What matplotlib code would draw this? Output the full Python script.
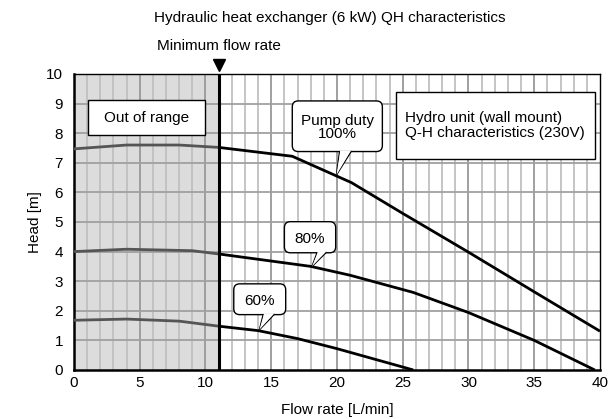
import matplotlib.pyplot as plt
from matplotlib.patches import FancyBboxPatch, Polygon, Rectangle

plt.rcParams['font.family'] = ['Liberation Sans', 'DejaVu Sans']

min_flow = 11

# pump curves, left part (out of range, grey) and right part (black)
q100_left = [0, 4, 8, 11]
h100_left = [7.47, 7.6, 7.6, 7.52]
q100 = [11, 16.6, 21.1, 25, 30, 35, 40]
h100 = [7.52, 7.22, 6.33, 5.29, 3.98, 2.64, 1.31]

q80_left = [0, 4, 9, 11]
h80_left = [4.0, 4.08, 4.03, 3.92]
q80 = [11, 18, 21, 25.8, 30, 35, 39.6]
h80 = [3.92, 3.5, 3.2, 2.62, 1.94, 1.0, 0.0]

q60_left = [0, 4, 8, 11]
h60_left = [1.68, 1.72, 1.65, 1.48]
q60 = [11, 14, 17, 20, 25.8]
h60 = [1.48, 1.33, 1.06, 0.72, 0.0]

x_ticks = [0, 5, 10, 15, 20, 25, 30, 35, 40]
y_ticks = list(range(0, 11))

fs = 11

fig = plt.figure(figsize=(6.1, 4.19), dpi=100)
ax = fig.add_axes([0.1213, 0.117, 0.8623, 0.7064])
ax.set_xlim(0, 40)
ax.set_ylim(0, 10)

# shaded out-of-range area
ax.add_patch(Rectangle((0, 0), min_flow, 10, facecolor='#dcdcdc', edgecolor='none', zorder=0))

# grid
for q in range(1, 40):
    c = '#999999' if q % 5 == 0 else '#c0c0c0'
    ax.axvline(q, color=c, lw=1.3, zorder=1)
for h in range(1, 10):
    ax.axhline(h, color='#a0a0a0', lw=1.3, zorder=1)

ax.axvline(min_flow, color='black', lw=2.2, zorder=4)

for ql, hl, q, h in [(q100_left, h100_left, q100, h100),
                     (q80_left, h80_left, q80, h80),
                     (q60_left, h60_left, q60, h60)]:
    ax.plot(ql, hl, color='#555555', lw=2, zorder=3, solid_capstyle='butt')
    ax.plot(q, h, color='black', lw=2, zorder=3, solid_capstyle='butt')

ax.set_xticks(x_ticks)
ax.set_yticks(y_ticks)
ax.tick_params(length=0, labelsize=fs)
ax.tick_params(axis='y', pad=8)
ax.tick_params(axis='x', pad=4)
for s in ax.spines.values():
    s.set_linewidth(1.0)
ax.spines['left'].set_linewidth(1.8)
ax.spines['bottom'].set_linewidth(1.8)

ax.set_xlabel('Flow rate [L/min]', fontsize=fs, labelpad=10)
ax.set_ylabel('Head [m]', fontsize=fs, labelpad=3)


def callout(x0, x1, y0, y1, base0, base1, tip, text):
    box = FancyBboxPatch((x0, y0), x1 - x0, y1 - y0,
                         boxstyle='round,pad=0,rounding_size=0.45',
                         mutation_aspect=0.45,
                         facecolor='white', edgecolor='black', lw=1.0, zorder=6)
    ax.add_patch(box)
    ax.add_patch(Polygon([(base0, y0 + 0.02), tip, (base1, y0 + 0.02)], closed=False,
                         facecolor='white', edgecolor='black', lw=1.0, zorder=7))
    ax.add_patch(Polygon([(base0 + 0.05, y0 + 0.03), tip, (base1 - 0.05, y0 + 0.03)],
                         closed=True, facecolor='white', edgecolor='none', zorder=7))
    ax.text((x0 + x1) / 2, (y0 + y1) / 2 - 0.05, text, ha='center', va='center',
            fontsize=fs, linespacing=0.95, zorder=8)


callout(16.6, 23.45, 7.38, 9.09, 20.2, 21.1, (19.96, 6.59), 'Pump duty\n100%')
callout(16.0, 19.9, 3.96, 5.01, 18.5, 19.2, (18.1, 3.5), '80%')
callout(12.15, 16.1, 1.87, 2.91, 14.4, 15.25, (14.1, 1.36), '60%')

ax.add_patch(Rectangle((1.1, 7.94), 8.85, 1.18, facecolor='white', edgecolor='black',
                       lw=1.0, zorder=6))
ax.text(5.5, 8.53, 'Out of range', ha='center', va='center', fontsize=fs, zorder=8)

ax.add_patch(Rectangle((24.5, 7.13), 15.1, 2.27, facecolor='white', edgecolor='black',
                       lw=1.0, zorder=6))
ax.text(25.15, 8.25, 'Hydro unit (wall mount)\nQ-H characteristics (230V)', ha='left',
        va='center', fontsize=fs, linespacing=1.1, zorder=8)

# minimum flow marker
ax.plot([min_flow], [10.3], marker='v', color='black', markersize=8, clip_on=False, zorder=9)
ax.text(min_flow, 10.95, 'Minimum flow rate', ha='center', va='center', fontsize=fs)

fig.text(0.54, 0.958, 'Hydraulic heat exchanger (6 kW) QH characteristics', ha='center',
         va='center', fontsize=fs)

fig.savefig('out.png', dpi=100)
